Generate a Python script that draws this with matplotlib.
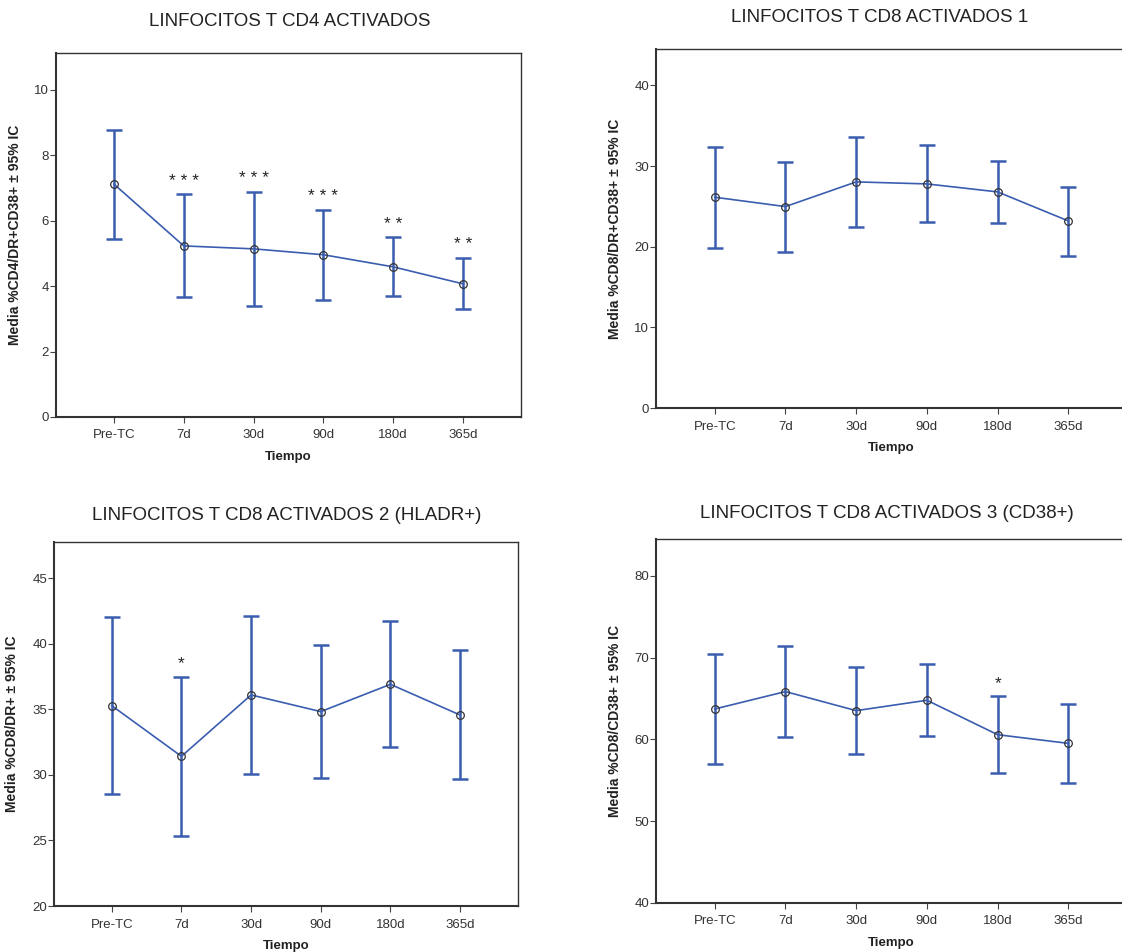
import matplotlib
matplotlib.use("Agg")
import matplotlib.pyplot as plt

plt.rcParams['font.family'] = ['Liberation Sans', 'DejaVu Sans']

categories = ["Pre-TC", "7d", "30d", "90d", "180d", "365d"]

# Panel 1: CD4 activated
cd4_mean = [7.12, 5.23, 5.14, 4.96, 4.59, 4.07]
cd4_upper = [8.78, 6.81, 6.89, 6.34, 5.49, 4.87]
cd4_lower = [5.44, 3.68, 3.39, 3.57, 3.70, 3.29]
cd4_sig = ["", "***", "***", "***", "**", "**"]

# Panel 2: CD8 activated 1
cd8a_mean = [26.13, 24.97, 28.03, 27.78, 26.79, 23.19]
cd8a_upper = [32.38, 30.52, 33.62, 32.59, 30.68, 27.45]
cd8a_lower = [19.88, 19.34, 22.44, 23.02, 22.94, 18.88]
cd8a_sig = ["", "", "", "", "", ""]

# Panel 3: CD8 activated 2 (HLADR+)
cd8b_mean = [35.27, 31.41, 36.09, 34.82, 36.90, 34.56]
cd8b_upper = [42.05, 37.49, 42.07, 39.86, 41.69, 39.50]
cd8b_lower = [28.55, 25.35, 30.06, 29.78, 32.12, 29.65]
cd8b_sig = ["", "*", "", "", "", ""]

# Panel 4: CD8 activated 3 (CD38+)
cd8c_mean = [63.71, 65.84, 63.51, 64.78, 60.57, 59.51]
cd8c_upper = [70.49, 71.43, 68.82, 69.22, 65.27, 64.33]
cd8c_lower = [56.94, 60.24, 58.24, 60.37, 55.88, 54.69]
cd8c_sig = ["", "", "", "", "*", ""]

W, H = 1122, 952

panels = [
    dict(title="LINFOCITOS T CD4 ACTIVADOS", ylabel="Media %CD4/DR+CD38+ \u00b1 95% IC",
         mean=cd4_mean, up=cd4_upper, lo=cd4_lower, sig=cd4_sig,
         ylim=(0, 11.13), yticks=[0, 2, 4, 6, 8, 10],
         rect=[0.0499, 0.5620, 0.4144, 0.3824], tpos=(290, 22), ylx=-0.073),
    dict(title="LINFOCITOS T CD8 ACTIVADOS 1", ylabel="Media %CD8/DR+CD38+ \u00b1 95% IC",
         mean=cd8a_mean, up=cd8a_upper, lo=cd8a_lower, sig=cd8a_sig,
         ylim=(0, 44.5), yticks=[0, 10, 20, 30, 40],
         rect=[0.5847, 0.5714, 0.4198, 0.3771], tpos=(880, 17), ylx=-0.072),
    dict(title="LINFOCITOS T CD8 ACTIVADOS 2 (HLADR+)", ylabel="Media %CD8/DR+ \u00b1 95% IC",
         mean=cd8b_mean, up=cd8b_upper, lo=cd8b_lower, sig=cd8b_sig,
         ylim=(20, 47.75), yticks=[20, 25, 30, 35, 40, 45],
         rect=[0.0481, 0.0483, 0.4135, 0.3824], tpos=(287, 516), ylx=-0.075),
    dict(title="LINFOCITOS T CD8 ACTIVADOS 3 (CD38+)", ylabel="Media %CD8/CD38+ \u00b1 95% IC",
         mean=cd8c_mean, up=cd8c_upper, lo=cd8c_lower, sig=cd8c_sig,
         ylim=(40, 84.5), yticks=[40, 50, 60, 70, 80],
         rect=[0.5847, 0.0515, 0.4198, 0.3824], tpos=(887, 514), ylx=-0.072),
]

color = "#3a5db0"
fig = plt.figure(figsize=(W / 100, H / 100), dpi=100)

for p in panels:
    ax = fig.add_axes(p["rect"])
    x = list(range(len(categories)))
    m = p["mean"]
    yerr = [[mi - li for mi, li in zip(m, p["lo"])], [ui - mi for mi, ui in zip(m, p["up"])]]
    ax.errorbar(x, m, yerr=yerr, fmt="none", ecolor=color, elinewidth=1.8,
                capsize=6, capthick=1.8, zorder=2)
    ax.plot(x, m, color=color, lw=1.2, zorder=3)
    ax.plot(x, m, linestyle="none", marker="o", markersize=5.5, markerfacecolor="none",
            markeredgecolor="#333333", markeredgewidth=0.9, zorder=4)
    for xi, ui, s in zip(x, p["up"], p["sig"]):
        if s:
            ax.annotate(" ".join(s), (xi, ui), xytext=(0, 4), textcoords="offset points",
                        ha="center", va="bottom", fontsize=12.5, color="#222222")
    ax.set_xlim(-0.83, 5.83)
    ax.set_ylim(*p["ylim"])
    ax.set_yticks(p["yticks"])
    ax.set_xticks(x)
    ax.set_xticklabels(categories)
    ax.tick_params(axis="both", labelsize=9.5, labelcolor="#333333", color="#444444",
                   length=4, width=0.8)
    ax.tick_params(axis="x", pad=5)
    ax.tick_params(axis="y", pad=1)
    for sp in ax.spines.values():
        sp.set_color("#333333")
        sp.set_linewidth(1.0)
    ax.spines["left"].set_linewidth(1.5)
    ax.spines["bottom"].set_linewidth(1.5)
    ax.set_xlabel("Tiempo", fontsize=9.5, fontweight="bold", color="#222222", labelpad=7)
    ax.set_ylabel(p["ylabel"], fontsize=10, fontweight="bold", color="#222222")
    ax.yaxis.set_label_coords(p["ylx"], 0.5)
    fig.text(p["tpos"][0] / W, 1 - p["tpos"][1] / H, p["title"], fontsize=13.5,
             color="#222222", ha="center", va="center")

fig.savefig("out.png", dpi=100, facecolor="white")
